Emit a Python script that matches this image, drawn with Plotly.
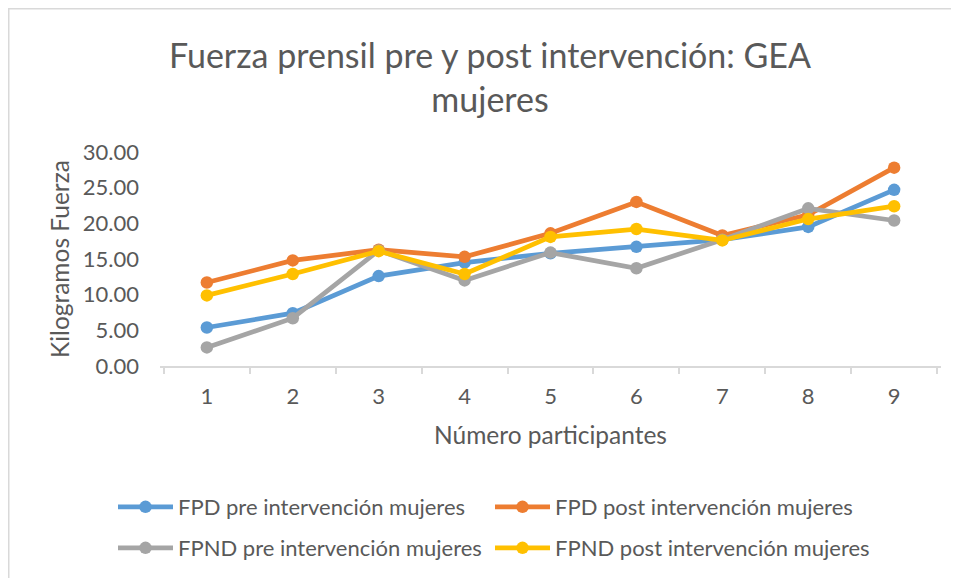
import plotly.graph_objects as go

participants = ["1", "2", "3", "4", "5", "6", "7", "8", "9"]
fpd_pre = [5.4, 7.4, 12.6, 14.5, 15.8, 16.7, 17.7, 19.5, 24.7]
fpd_post = [11.7, 14.8, 16.3, 15.3, 18.6, 23.0, 18.3, 21.2, 27.8]
fpnd_pre = [2.6, 6.7, 16.2, 12.0, 15.9, 13.7, 17.7, 22.1, 20.4]
fpnd_post = [9.9, 12.9, 16.1, 12.9, 18.1, 19.2, 17.6, 20.6, 22.4]

names = ["FPD pre intervención mujeres", "FPD post intervención mujeres",
         "FPND pre intervención mujeres", "FPND post intervención mujeres"]
colors = ["#5B9BD5", "#ED7D31", "#A5A5A5", "#FFC000"]
series = [fpd_pre, fpd_post, fpnd_pre, fpnd_post]
legend_ids = ["legend", "legend2", "legend3", "legend4"]

FONT = "Lato, 'Open Sans', sans-serif"
TXT = "#595959"

fig = go.Figure()
for name, col, vals, lg in zip(names, colors, series, legend_ids):
    fig.add_trace(go.Scatter(
        x=participants, y=vals, name=name, mode="lines+markers",
        line=dict(color=col, width=4.75),
        marker=dict(color=col, size=12.5),
        legend=lg,
    ))

# page body adds an 8px offset; figure coordinates = window coordinates - 8
OFF = 8
W, H = 959 - OFF, 578 - OFF
L, R, T, B = 160 - OFF, 18, 152 - OFF, 212
ph = H - T - B
pw = W - L - R

def py(ywin):
    return (H - B - (ywin - OFF)) / ph

def px(xwin):
    return ((xwin - OFF) - L) / pw

def leg(xwin, ywin):
    return dict(orientation="h", xanchor="left", yanchor="middle",
                x=px(xwin), y=py(ywin),
                font=dict(family=FONT, size=22, color=TXT),
                itemwidth=55, bgcolor="rgba(0,0,0,0)")

fig.update_layout(
    width=W, height=H,
    margin=dict(l=L, r=R, t=T, b=B, autoexpand=False),
    paper_bgcolor="white", plot_bgcolor="white",
    font=dict(family=FONT, color=TXT),
    title=dict(text="Fuerza prensil pre y post intervención: GEA<br>mujeres",
               x=(490 - OFF) / W, xanchor="center", xref="container",
               y=1 - 60 / H, yanchor="top", yref="container",
               font=dict(family=FONT, size=34, color=TXT)),
    xaxis=dict(type="category", showgrid=False, showline=True,
               linecolor="#D9D9D9", linewidth=1.5,
               ticks="outside", tickson="boundaries", ticklen=6,
               tickcolor="#D9D9D9", tickwidth=1.5,
               tickfont=dict(family=FONT, size=22, color=TXT),
               ticklabelstandoff=10,
               title=dict(text="Número participantes", standoff=19,
                          font=dict(family=FONT, size=24.5, color=TXT)),
               zeroline=False, fixedrange=True, automargin=False),
    yaxis=dict(range=[0, 30], dtick=5, tick0=0, tickformat=".2f",
               showgrid=False, showline=False, zeroline=False,
               ticks="", ticklabelstandoff=20,
               tickfont=dict(family=FONT, size=22, color=TXT),
               title=dict(text="Kilogramos Fuerza", standoff=6,
                          font=dict(family=FONT, size=24.5, color=TXT)),
               fixedrange=True, automargin=False),
    legend=leg(113, 507),
    legend2=leg(490, 507),
    legend3=leg(113, 548),
    legend4=leg(490, 548),
    showlegend=True,
    shapes=[dict(type="rect", xref="paper", yref="paper",
                 x0=px(OFF + 0.75), x1=px(1100), y0=py(OFF + 0.75), y1=py(700),
                 line=dict(color="#D9D9D9", width=1.5),
                 fillcolor="rgba(0,0,0,0)", layer="below")],
)

fig.write_html("out.html")
